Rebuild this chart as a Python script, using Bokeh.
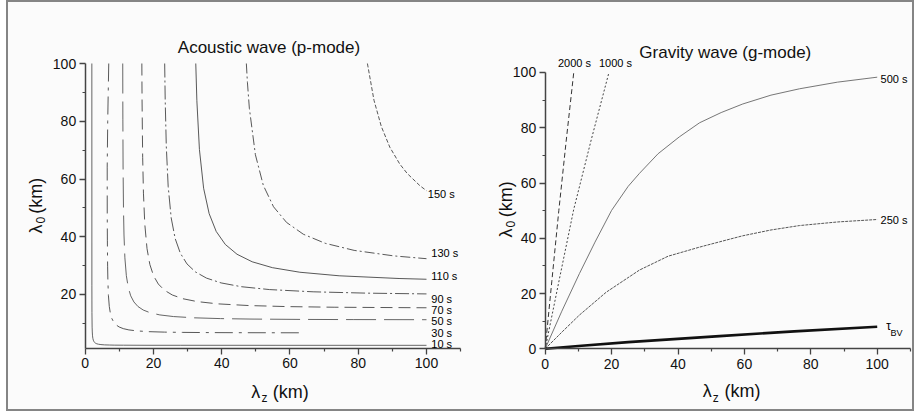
import math
from bokeh.plotting import figure
from bokeh.layouts import row
from bokeh.models import Label, Range1d, FixedTicker, LinearAxis
from bokeh.embed import file_html
from bokeh.resources import INLINE

# ---------------- data: acoustic wave (p-mode), lambda_z vs lambda_0 (km) ----------------
p10_z = [1.95, 1.96, 1.98, 2.03, 2.08, 2.15, 2.25, 2.38, 2.55, 2.76, 3.03, 3.40, 3.90, 4.61, 5.70, 7.07, 8.67, 11.2, 18.7, 28.0, 55.9, 100]
p10_l = [100, 23.0, 13.8, 8.71, 7.02, 5.68, 4.80, 4.18, 3.73, 3.39, 3.13, 2.93, 2.77, 2.65, 2.55, 2.50, 2.46, 2.44, 2.41, 2.41, 2.40, 2.40]

p30_z = [6.9, 6.6, 6.45, 6.46, 6.50, 6.57, 6.66, 6.81, 7.06, 7.39, 7.81, 8.36, 9.05, 9.96, 11.16, 12.8, 15.14, 18.71, 23.22, 28.45, 36.86, 45.98, 63.8]
p30_l = [100, 80, 64.1, 48.1, 38.6, 29.8, 24.3, 19.6, 15.85, 13.4, 11.68, 10.42, 9.475, 8.746, 8.179, 7.736, 7.393, 7.130, 6.970, 6.876, 6.803, 6.766, 6.734]

p50_z = [11.0, 11.04, 11.10, 11.22, 11.37, 11.63, 12.06, 12.62, 13.34, 14.27, 15.46, 17.0, 19.06, 21.86, 25.86, 31.96, 39.65, 48.58, 62.95, 78.53, 100]
p50_l = [100, 80.5, 64.5, 49.8, 40.6, 32.7, 26.5, 22.4, 19.53, 17.42, 15.84, 14.62, 13.67, 12.93, 12.36, 11.92, 11.65, 11.49, 11.37, 11.31, 11.27]

p70_z = [16.6, 16.66, 16.84, 17.07, 17.46, 18.11, 18.95, 20.03, 21.42, 23.21, 25.53, 28.61, 32.82, 38.83, 47.98, 59.54, 72.94, 100]
p70_l = [100, 87.5, 67.5, 55.1, 44.4, 35.9, 30.38, 26.48, 23.63, 21.48, 19.83, 18.54, 17.54, 16.76, 16.17, 15.80, 15.59, 15.40]

p90_z = [23.29, 23.44, 23.76, 24.31, 25.2, 26.37, 27.88, 29.82, 32.3, 35.53, 39.82, 45.68, 54.04, 66.78, 82.86, 100]
p90_l = [100, 87.4, 71.4, 57.5, 46.5, 39.34, 34.29, 30.6, 27.82, 25.68, 24.01, 22.71, 21.7, 20.93, 20.46, 20.2]

p110_z = [32.4, 32.72, 33.47, 34.7, 36.32, 38.39, 41.05, 44.48, 48.93, 54.83, 62.9, 74.41, 91.96, 100]
p110_l = [100, 87.1, 70.2, 56.8, 48.0, 41.84, 37.34, 33.94, 31.33, 29.3, 27.71, 26.48, 25.54, 25.28]

p130_z = [47.22, 47.53, 48.1, 49.87, 52.19, 55.18, 59.0, 63.92, 70.32, 78.8, 90.4, 100]
p130_l = [100, 93.5, 84.5, 68.4, 57.8, 50.38, 44.96, 40.87, 37.73, 35.28, 33.37, 32.4]

p150_z = [82.69, 84.61, 86.76, 89.26, 92.17, 94.37, 98.09, 100]
p150_l = [100, 87.3, 78.2, 71.0, 65.18, 61.89, 57.66, 55.96]

p_names = ["10 s", "30 s", "50 s", "70 s", "90 s", "110 s", "130 s", "150 s"]
p_label_z = [101.4, 101.4, 101.4, 101.4, 101.4, 101.4, 101.4, 100.4]
p_label_l = [2.7, 6.77, 10.89, 14.7, 18.5, 26.4, 34.4, 54.9]

# ---------------- data: gravity wave (g-mode) ----------------
g2000_z = [0, 2.0, 4.1, 6.3, 8.6]
g2000_l = [0, 24.5, 50.0, 75.0, 100]

g1000_z = [0, 4.2, 8.6, 13.9, 19.2]
g1000_l = [0, 24.8, 50.5, 75.8, 100]

g500_z = [0, 5, 10.3, 15, 20, 25, 28.4, 34, 40.4, 46.5, 53, 59.5, 68, 76.6, 88, 100]
g500_l = [0, 13.6, 27.2, 38.6, 50.1, 58.8, 63.5, 70.6, 76.7, 81.8, 85.5, 88.6, 91.8, 94.1, 96.5, 98.3]

g250_z = [0, 5, 10.3, 18.4, 28.4, 37, 46.5, 52.5, 59.5, 68, 76.6, 88, 100]
g250_l = [0, 6.0, 12.2, 20.5, 28.5, 33.5, 36.8, 38.7, 40.9, 43.0, 44.6, 45.9, 46.8]

gbv_z = [0, 10, 25, 52.5, 75, 100]
gbv_l = [0, 1.0, 2.4, 4.6, 6.3, 8.0]

x_ticks = [0, 20, 40, 60, 80, 100]
x_minor = [10, 30, 50, 70, 90, 110]
yl_ticks = [20, 40, 60, 80, 100]
yr_ticks = [0, 20, 40, 60, 80, 100]
y_minor = [10, 30, 50, 70, 90]

# ---------------- styling ----------------
FONT = "Liberation Sans"
BG = "#fbfbfb"
INK = "#111111"
AX = "#444444"


def style_axis(ax):
    ax.axis_line_color = AX
    ax.axis_line_width = 1.5
    ax.major_tick_line_color = AX
    ax.minor_tick_line_color = AX
    ax.major_tick_line_width = 1.3
    ax.minor_tick_line_width = 1.2
    ax.major_tick_out = 6
    ax.major_tick_in = 0
    ax.minor_tick_out = 3
    ax.minor_tick_in = 0
    ax.major_label_text_font = FONT
    ax.major_label_text_font_size = "14px"
    ax.major_label_text_color = INK


def make_fig(xr, yr, w, h, y_low, yticks):
    p = figure(output_backend="svg", toolbar_location=None, width=w, height=h,
               x_range=Range1d(*xr), y_range=Range1d(*yr),
               x_axis_location=None, y_axis_location=None,
               min_border=0, min_border_left=0, min_border_right=0,
               min_border_top=0, min_border_bottom=0,
               background_fill_color=BG, border_fill_color=BG,
               outline_line_color=None)
    p.grid.visible = False
    xa = LinearAxis(fixed_location=y_low, bounds=(0, 110),
                    ticker=FixedTicker(ticks=x_ticks, minor_ticks=x_minor))
    ya = LinearAxis(fixed_location=0, bounds=(y_low, 100),
                    ticker=FixedTicker(ticks=yticks, minor_ticks=y_minor))
    style_axis(xa)
    style_axis(ya)
    xa.major_label_standoff = 4
    ya.major_label_standoff = 3
    p.add_layout(xa, "below")
    p.add_layout(ya, "left")
    return p


def lab(p, x, y, text, size, align="left", baseline="middle", angle=0.0, color=INK):
    p.add_layout(Label(x=x, y=y, text=text, text_font=FONT,
                       text_font_size=f"{size}px", text_align=align,
                       text_baseline=baseline, angle=angle, text_color=color))


R = math.pi / 2

# ---------------- left panel ----------------
p1 = make_fig((-22.47, 112.6), (-19.83, 121.13), 461, 407, 1.4, yl_ticks)
p_curves = [(p10_z, p10_l), (p30_z, p30_l), (p50_z, p50_l), (p70_z, p70_l),
            (p90_z, p90_l), (p110_z, p110_l), (p130_z, p130_l), (p150_z, p150_l)]
p_dash = ["solid", "18 6 3 6", "30 8", "12 6", "14 3 2 3", "solid", "10 3 2 3", "4 2"]
p_col = ["#555555", "#454545", "#555555", "#454545", "#454545", "#454545", "#454545", "#454545"]
for (zs, ls), d, c in zip(p_curves, p_dash, p_col):
    p1.line(zs, ls, line_color=c, line_width=0.9, line_dash=d)
for name, zx, ly in zip(p_names, p_label_z, p_label_l):
    lab(p1, zx, ly, name, 11, color="#000000")

lab(p1, 53.85, 105.7, "Acoustic wave (p-mode)", 17, align="center", baseline="alphabetic")
lab(p1, 48.64, -13.77, "λ", 18, baseline="alphabetic")
lab(p1, 51.66, -15.84, "z", 12, baseline="alphabetic")
lab(p1, 54.97, -13.77, "(km)", 18, baseline="alphabetic")
lab(p1, -14.27, 41.13, "λ", 18, baseline="alphabetic", angle=R)
lab(p1, -13.1, 44.6, "0", 12, baseline="alphabetic", angle=R)
lab(p1, -14.27, 48.0, "(km)", 18, baseline="alphabetic", angle=R)

# ---------------- right panel ----------------
p2 = make_fig((-22.80, 110.63), (-21.97, 125.33), 443, 407, 0, yr_ticks)
p2.line(g2000_z, g2000_l, line_color="#333333", line_width=1.0, line_dash="5 3")
p2.line(g1000_z, g1000_l, line_color="#444444", line_width=1.0, line_dash="2 2")
p2.line(g500_z, g500_l, line_color="#666666", line_width=0.9)
p2.line(g250_z, g250_l, line_color="#555555", line_width=1.0, line_dash="3 1")
p2.line(gbv_z, gbv_l, line_color="#111111", line_width=2.6)

lab(p2, 8.83, 103.4, "2000 s", 11, align="center", color="#000000")
lab(p2, 21.17, 103.4, "1000 s", 11, align="center", color="#000000")
lab(p2, 101.0, 97.6, "500 s", 11, color="#000000")
lab(p2, 101.0, 46.7, "250 s", 11, color="#000000")
lab(p2, 102.7, 8.4, "τ", 12, color="#000000")
lab(p2, 104.0, 5.8, "BV", 9, color="#000000")

lab(p2, 54.25, 107.3, "Gravity wave (g-mode)", 17, align="center", baseline="alphabetic")
lab(p2, 47.47, -15.45, "λ", 18, baseline="alphabetic")
lab(p2, 50.5, -17.63, "z", 12, baseline="alphabetic")
lab(p2, 54.0, -15.45, "(km)", 18, baseline="alphabetic")
lab(p2, -11.66, 40.28, "λ", 18, baseline="alphabetic", angle=R)
lab(p2, -10.45, 43.9, "0", 12, baseline="alphabetic", angle=R)
lab(p2, -11.66, 47.6, "(km)", 18, baseline="alphabetic", angle=R)

layout = row(p1, p2)
layout.styles = {"border": "2px solid #858585", "margin": "0 0 0 6px", "background-color": BG}

open("out.html", "w").write(file_html(layout, INLINE))
